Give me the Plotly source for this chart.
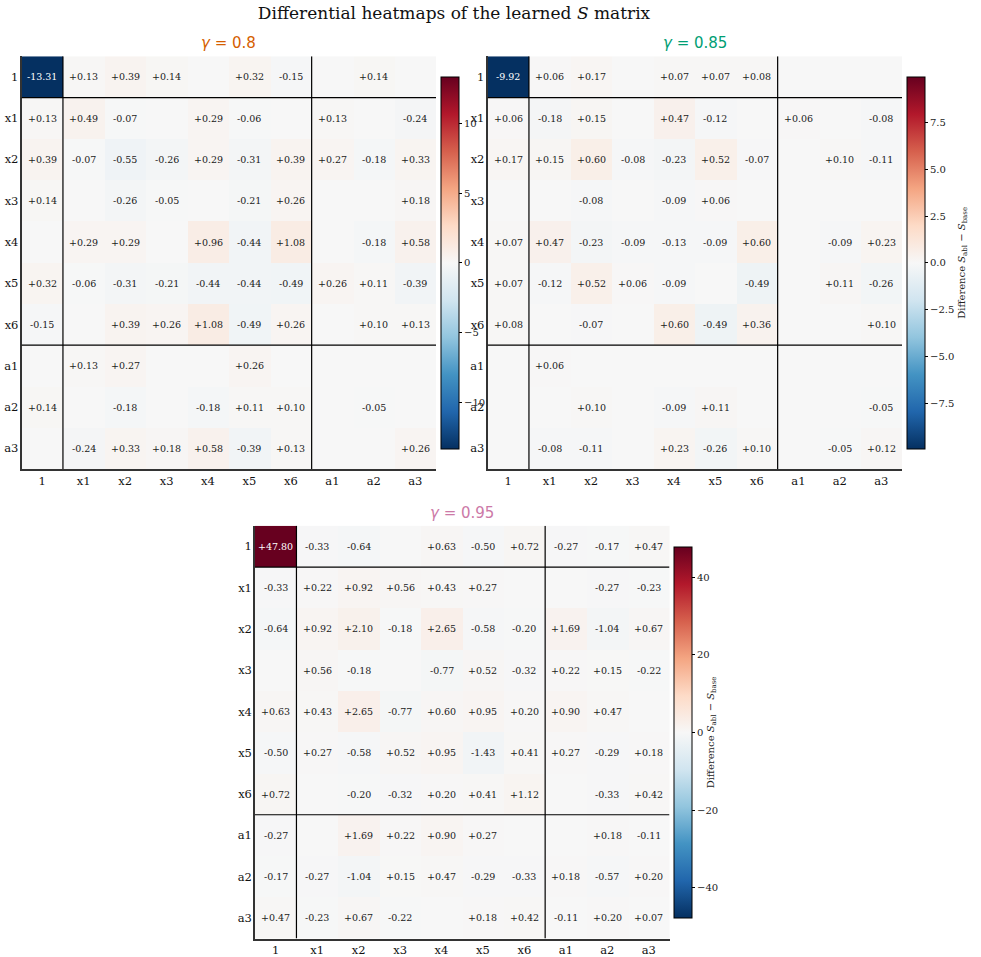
import plotly.graph_objects as go

# Row/column variables of the S matrix
labels = ["1", "x1", "x2", "x3", "x4", "x5", "x6", "a1", "a2", "a3"]

gammas = ["0.8", "0.85", "0.95"]
gamma_colors = ["#D55E00", "#009E73", "#CC79A7"]

# S_abl - S_base for each discount factor (rows/cols ordered as labels)
diff_g080 = [
    [-13.31, 0.13, 0.39, 0.14, 0.00, 0.32, -0.15, 0.00, 0.14, 0.00],
    [0.13, 0.49, -0.07, 0.00, 0.29, -0.06, 0.00, 0.13, 0.00, -0.24],
    [0.39, -0.07, -0.55, -0.26, 0.29, -0.31, 0.39, 0.27, -0.18, 0.33],
    [0.14, 0.00, -0.26, -0.05, 0.00, -0.21, 0.26, 0.00, 0.00, 0.18],
    [0.00, 0.29, 0.29, 0.00, 0.96, -0.44, 1.08, 0.00, -0.18, 0.58],
    [0.32, -0.06, -0.31, -0.21, -0.44, -0.44, -0.49, 0.26, 0.11, -0.39],
    [-0.15, 0.00, 0.39, 0.26, 1.08, -0.49, 0.26, 0.00, 0.10, 0.13],
    [0.00, 0.13, 0.27, 0.00, 0.00, 0.26, 0.00, 0.00, 0.00, 0.00],
    [0.14, 0.00, -0.18, 0.00, -0.18, 0.11, 0.10, 0.00, -0.05, 0.00],
    [0.00, -0.24, 0.33, 0.18, 0.58, -0.39, 0.13, 0.00, 0.00, 0.26],
]
diff_g085 = [
    [-9.92, 0.06, 0.17, 0.00, 0.07, 0.07, 0.08, 0.00, 0.00, 0.00],
    [0.06, -0.18, 0.15, 0.00, 0.47, -0.12, 0.00, 0.06, 0.00, -0.08],
    [0.17, 0.15, 0.60, -0.08, -0.23, 0.52, -0.07, 0.00, 0.10, -0.11],
    [0.00, 0.00, -0.08, 0.00, -0.09, 0.06, 0.00, 0.00, 0.00, 0.00],
    [0.07, 0.47, -0.23, -0.09, -0.13, -0.09, 0.60, 0.00, -0.09, 0.23],
    [0.07, -0.12, 0.52, 0.06, -0.09, 0.00, -0.49, 0.00, 0.11, -0.26],
    [0.08, 0.00, -0.07, 0.00, 0.60, -0.49, 0.36, 0.00, 0.00, 0.10],
    [0.00, 0.06, 0.00, 0.00, 0.00, 0.00, 0.00, 0.00, 0.00, 0.00],
    [0.00, 0.00, 0.10, 0.00, -0.09, 0.11, 0.00, 0.00, 0.00, -0.05],
    [0.00, -0.08, -0.11, 0.00, 0.23, -0.26, 0.10, 0.00, -0.05, 0.12],
]
diff_g095 = [
    [47.80, -0.33, -0.64, 0.00, 0.63, -0.50, 0.72, -0.27, -0.17, 0.47],
    [-0.33, 0.22, 0.92, 0.56, 0.43, 0.27, 0.00, 0.00, -0.27, -0.23],
    [-0.64, 0.92, 2.10, -0.18, 2.65, -0.58, -0.20, 1.69, -1.04, 0.67],
    [0.00, 0.56, -0.18, 0.00, -0.77, 0.52, -0.32, 0.22, 0.15, -0.22],
    [0.63, 0.43, 2.65, -0.77, 0.60, 0.95, 0.20, 0.90, 0.47, 0.00],
    [-0.50, 0.27, -0.58, 0.52, 0.95, -1.43, 0.41, 0.27, -0.29, 0.18],
    [0.72, 0.00, -0.20, -0.32, 0.20, 0.41, 1.12, 0.00, -0.33, 0.42],
    [-0.27, 0.00, 1.69, 0.22, 0.90, 0.27, 0.00, 0.00, 0.18, -0.11],
    [-0.17, -0.27, -1.04, 0.15, 0.47, -0.29, -0.33, 0.18, -0.57, 0.20],
    [0.47, -0.23, 0.67, -0.22, 0.00, 0.18, 0.42, -0.11, 0.20, 0.07],
]
matrices = [diff_g080, diff_g085, diff_g095]

cbar_tickvals = [
    [-10, -5, 0, 5, 10],
    [-7.5, -5.0, -2.5, 0.0, 2.5, 5.0, 7.5],
    [-40, -20, 0, 20, 40],
]
cbar_ticktext = [
    ["−10", "−5", "0", "5", "10"],
    ["−7.5", "−5.0", "−2.5", "0.0", "2.5", "5.0", "7.5"],
    ["−40", "−20", "0", "20", "40"],
]
cbar_titles = ["", "Difference <i>S</i><sub>abl</sub> − <i>S</i><sub>base</sub>",
               "Difference <i>S</i><sub>abl</sub> − <i>S</i><sub>base</sub>"]

# Block boundaries (constant | states | actions)
block_edges = [0.5, 6.5]

# matplotlib RdBu_r
rdbu_r = [
    [0.0, "#053061"], [0.1, "#2166ac"], [0.2, "#4393c3"], [0.3, "#92c5de"],
    [0.4, "#d1e5f0"], [0.5, "#f7f7f7"], [0.6, "#fddbc7"], [0.7, "#f4a582"],
    [0.8, "#d6604d"], [0.9, "#b2182b"], [1.0, "#67001f"],
]

W, H = 981, 957
SERIF = "DejaVu Serif"
SANS = "DejaVu Sans"

# panel boxes in pixels: left, right, top, bottom
panels = [(21.5, 436, 56.5, 471), (487.5, 902, 56.5, 471), (255, 669.5, 528, 942.5)]
# colorbar boxes: left, top, bottom
cbars = [(441, 77, 451), (907, 77, 451), (674, 549, 922)]

idx = list(range(len(labels)))


def fmt(v):
    return f"{v:+.2f}".replace("+-", "-")


fig = go.Figure()
annotations = []
shapes = []
layout_axes = {}

for i, (mat, g, gcol) in enumerate(zip(matrices, gammas, gamma_colors)):
    n = i + 1
    xa = "x" if n == 1 else f"x{n}"
    ya = "y" if n == 1 else f"y{n}"
    vmax = max(abs(v) for row in mat for v in row)
    l, r, t, b = panels[i]
    cl, ct, cb = cbars[i]

    fig.add_trace(go.Heatmap(
        z=mat, x=idx, y=idx, xaxis=xa, yaxis=ya,
        colorscale=rdbu_r, zmin=-vmax, zmax=vmax,
        customdata=[[f"{labels[r_]} / {labels[c_]}" for c_ in idx] for r_ in idx],
        hovertemplate="%{customdata}: %{z:+.2f}<extra></extra>",
        colorbar=dict(
            x=cl / W, xanchor="left", xpad=0,
            y=1 - (ct + cb) / 2 / H, yanchor="middle", ypad=0,
            len=(cb - ct) / H, lenmode="fraction", thickness=18,
            outlinewidth=1, outlinecolor="#000",
            ticks="outside", ticklen=3, tickwidth=1, tickcolor="#000",
            tickmode="array", tickvals=cbar_tickvals[i], ticktext=cbar_ticktext[i],
            tickfont=dict(family=SERIF, size=10, color="#222"),
            title=dict(text=cbar_titles[i], side="right",
                       font=dict(family=SERIF, size=10, color="#222")),
        ),
    ))

    axis_common = dict(
        showgrid=False, zeroline=False, ticks="",
        showline=True, linecolor="#333", linewidth=1.5, mirror=False,
        tickmode="array", tickvals=idx, ticktext=labels,
        tickfont=dict(family=SERIF, size=11.5, color="#111"),
    )
    layout_axes["xaxis" if n == 1 else f"xaxis{n}"] = dict(
        axis_common, domain=[l / W, r / W], anchor=ya, range=[-0.5, 9.5])
    layout_axes["yaxis" if n == 1 else f"yaxis{n}"] = dict(
        axis_common, domain=[1 - b / H, 1 - t / H], anchor=xa, range=[9.5, -0.5],
        ticklabelstandoff=-1)

    # cell labels
    for ri, row in enumerate(mat):
        for ci, v in enumerate(row):
            if abs(v) < 0.05:
                continue
            annotations.append(dict(
                x=ci, y=ri, xref=xa, yref=ya, text=fmt(v),
                showarrow=False,
                font=dict(family=SERIF, size=9.5,
                          color="white" if abs(v) > 0.5 * vmax else "#1a1a1a"),
            ))

    # block separators
    for e in block_edges:
        shapes.append(dict(type="line", xref=xa, yref=ya, x0=e, x1=e, y0=-0.5, y1=9.5,
                           line=dict(color="#000", width=1.2)))
        shapes.append(dict(type="line", xref=xa, yref=ya, x0=-0.5, x1=9.5, y0=e, y1=e,
                           line=dict(color="#000", width=1.2)))

    # panel title
    annotations.append(dict(
        x=(l + r) / 2 / W, y=1 - (t - 13) / H, xref="paper", yref="paper",
        text=f"<i>γ</i> = {g}", showarrow=False, xanchor="center", yanchor="middle",
        font=dict(family=SANS, size=15, color=gcol),
    ))

fig.update_layout(
    width=W, height=H,
    margin=dict(l=0, r=0, t=0, b=0),
    paper_bgcolor="white", plot_bgcolor="white",
    title=dict(text="Differential heatmaps of the learned <i>S</i> matrix",
               x=454 / W, y=1 - 13 / H, xanchor="center", yanchor="middle",
               font=dict(family=SERIF, size=17, color="#111")),
    annotations=annotations, shapes=shapes,
    **layout_axes,
)

fig.write_html("out.html")
